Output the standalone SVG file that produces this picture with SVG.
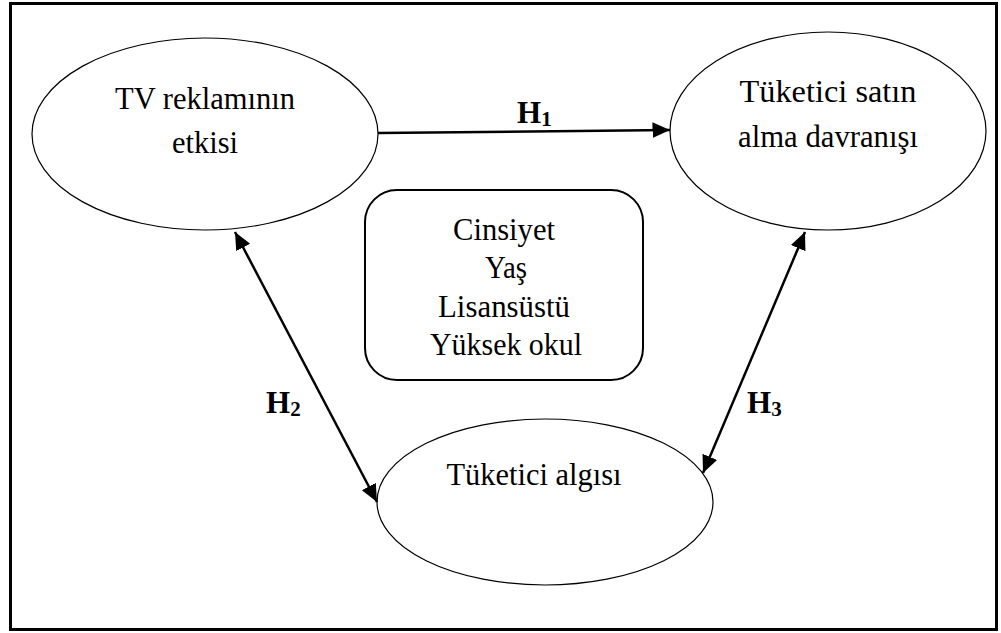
<svg xmlns="http://www.w3.org/2000/svg" width="1001" height="633" viewBox="0 0 1001 633">
<style>
text{font-family:'Liberation Serif','DejaVu Serif',serif}
.t{font-size:32px;fill:#000;text-anchor:middle}
.h{font-size:31px;font-weight:bold;fill:#000}
.s{font-size:21px}
.el{fill:#fff;stroke:#000;stroke-width:1.2}
.ar{stroke:#000;stroke-width:2.5;fill:none}
</style>
<defs>
<marker id="a" viewBox="0 0 10 10" refX="10" refY="5" markerWidth="7" markerHeight="7" orient="auto-start-reverse">
<path d="M0,0.5 L10,5 L0,9.5 z" fill="#000"/>
</marker>
</defs>
<rect x="10.5" y="3.5" width="986" height="626" fill="#fff" stroke="#000" stroke-width="3"/>
<g id="tv">
<ellipse class="el" cx="205" cy="134" rx="173" ry="96"/>
<text class="t" x="205" y="109" textLength="180" lengthAdjust="spacingAndGlyphs">TV reklamının</text>
<text class="t" x="205" y="153" textLength="66" lengthAdjust="spacingAndGlyphs">etkisi</text>
</g>
<g id="satin">
<ellipse class="el" cx="828" cy="131" rx="158" ry="99"/>
<text class="t" x="828" y="102" textLength="177" lengthAdjust="spacingAndGlyphs">Tüketici satın</text>
<text class="t" x="828" y="147" textLength="180" lengthAdjust="spacingAndGlyphs">alma davranışı</text>
</g>
<g id="algi">
<ellipse class="el" cx="545" cy="502" rx="168" ry="83"/>
<text class="t" x="534" y="485" textLength="175" lengthAdjust="spacingAndGlyphs">Tüketici algısı</text>
</g>
<g id="kontrol">
<rect x="365" y="190" width="278" height="190" rx="32" ry="32" fill="#fff" stroke="#000" stroke-width="2"/>
<text class="t" x="504" y="240" textLength="102" lengthAdjust="spacingAndGlyphs">Cinsiyet</text>
<text class="t" x="506" y="278" textLength="42" lengthAdjust="spacingAndGlyphs">Yaş</text>
<text class="t" x="504" y="317" textLength="132" lengthAdjust="spacingAndGlyphs">Lisansüstü</text>
<text class="t" x="506" y="355" textLength="152" lengthAdjust="spacingAndGlyphs">Yüksek okul</text>
</g>
<g id="connectors">
<line class="ar" x1="378" y1="133" x2="670" y2="130" marker-end="url(#a)"/>
<line class="ar" x1="235" y1="232" x2="377" y2="502" marker-start="url(#a)" marker-end="url(#a)"/>
<line class="ar" x1="805" y1="232" x2="703" y2="473" marker-start="url(#a)" marker-end="url(#a)"/>
<text class="h" x="517" y="123">H<tspan class="s" dy="3">1</tspan></text>
<text class="h" x="266" y="413">H<tspan class="s" dy="3">2</tspan></text>
<text class="h" x="747" y="413">H<tspan class="s" dy="3">3</tspan></text>
</g>
</svg>
